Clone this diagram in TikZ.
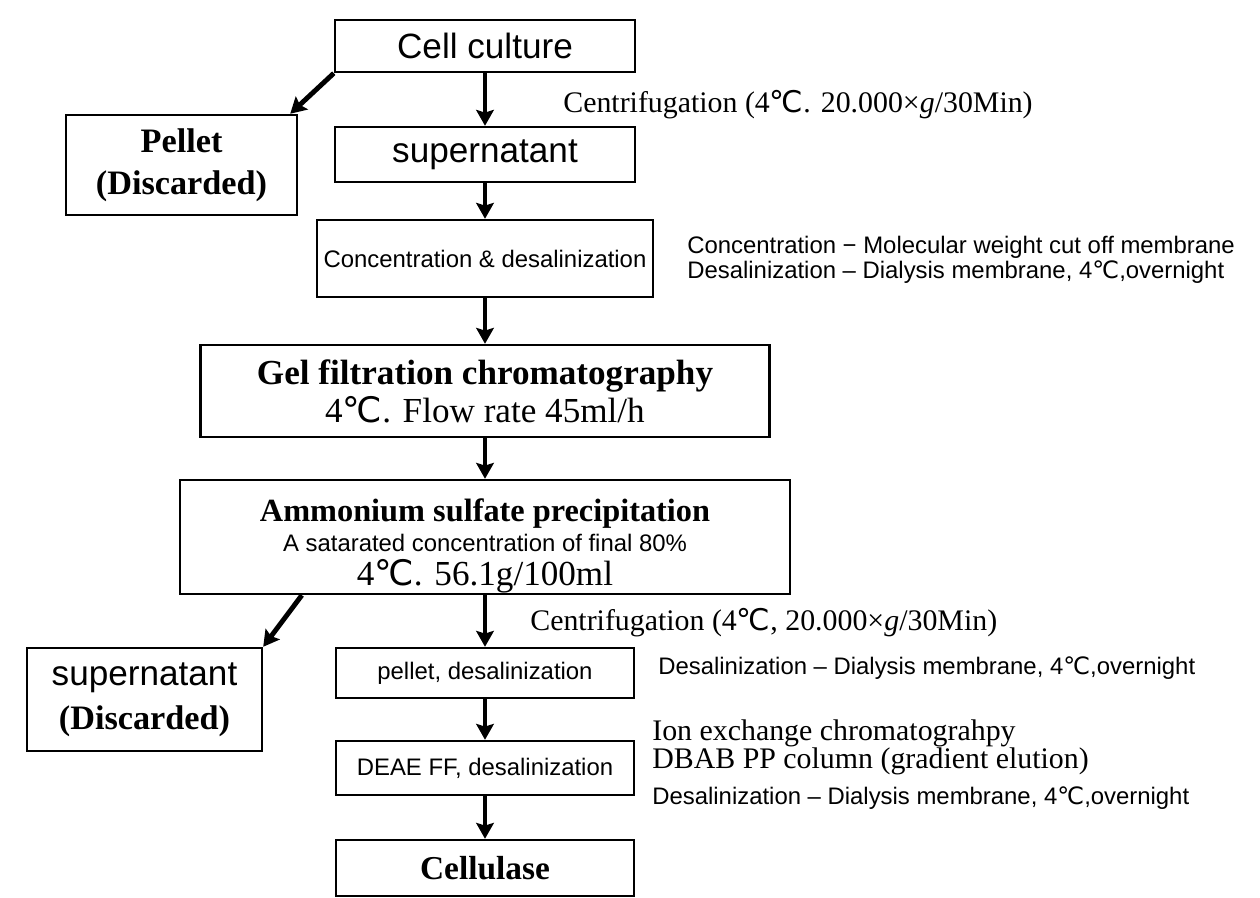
\documentclass[tikz,border=0pt]{standalone}
\usepackage{fontspec}
\setmainfont{Liberation Serif}
\setsansfont{Liberation Sans}
\newfontfamily\symfont{DejaVu Sans}
\usetikzlibrary{arrows.meta,calc}
\newcommand{\dgc}{{\symfont ℃}}
\newcommand{\fsz}[2]{\fontsize{#1}{#2}\selectfont}
\newcommand{\tightls}{\lineskiplimit=-20pt\relax}
\tikzset{
  box/.style={draw, line width=1.4pt, align=center, inner sep=0pt, fill=white},
  arr/.style={-{Stealth[length=9pt, width=10pt, inset=1.5pt]}, line width=2.8pt},
  lab/.style={anchor=west, inner sep=0pt, align=left, font=\sffamily\fsz{13.6}{14.2}},
  cond/.style={anchor=west, inner sep=0pt, align=left, font=\fsz{17}{16}},
}
\begin{document}
\begin{tikzpicture}[x=0.02cm, y=-0.02cm]
  \useasboundingbox (0,0) rectangle (1260,898);
  \node[box, minimum width=6cm, minimum height=1.04cm, font=\sffamily\fsz{20}{24}] (cc) at (485,46) {Cell culture};
  \node[box, minimum width=4.62cm, minimum height=2cm, font=\bfseries\fsz{19.5}{23.8}] (pel) at (181.5,165) {Pellet\\(Discarded)};
  \node[box, minimum width=6cm, minimum height=1.1cm, font=\sffamily\fsz{20}{24}] (sup) at (485,154.5) {supernatant};
  \node[box, minimum width=6.72cm, minimum height=1.54cm, font=\sffamily\fsz{13.6}{16}] (con) at (485,258.5) {Concentration \& desalinization};
  \node[box, minimum width=11.38cm, minimum height=1.84cm, font=\fsz{20}{21.5}] (gel) at (485,391) {\textbf{Gel filtration chromatography}\\4\dgc. Flow rate 45ml/h};
  \node[box, minimum width=12.2cm, minimum height=2.28cm, font=\fsz{13.6}{19.3}\tightls] (amm) at (485,537)
    {\rule{0pt}{23pt}{\bfseries\fsz{18.4}{17}Ammonium sulfate precipitation}\\[-2.3pt]{\sffamily A satarated concentration of final 80\%}\\{\fsz{20}{17}4\dgc. 56.1g/100ml}};
  \node[box, minimum width=4.7cm, minimum height=2.06cm, font=\fsz{19.5}{25}] (sup2) at (144.5,699.5) {{\sffamily\fsz{20}{25}supernatant}\\\textbf{(Discarded)}};
  \node[box, minimum width=5.96cm, minimum height=1cm, font=\sffamily\fsz{13.6}{16}] (pd) at (485,673) {pellet, desalinization};
  \node[box, minimum width=5.96cm, minimum height=1.08cm, font=\sffamily\fsz{13.6}{16}] (deae) at (485,768) {DEAE FF, desalinization};
  \node[box, minimum width=5.96cm, minimum height=1.12cm, font=\bfseries\fsz{19}{22}] (cel) at (485,868) {Cellulase};

  \foreach \a/\b in {cc/sup, sup/con, con/gel, gel/amm, amm/pd, pd/deae, deae/cel}
    \draw[arr] (\a) -- (\b);
  \draw[arr] (cc.south west) -- ($(pel.north east)+(-8,0)$);
  \draw[arr] ($(amm.south west)+(123,0)$) -- (sup2.north east);

  \node[cond] (c1) at (563,105) {Centrifugation (4\dgc. 20.000×\textit{g}/30Min)};
  \node[lab] (n1) at (687,259.5) {Concentration − Molecular weight cut off membrane\\Desalinization – Dialysis membrane, 4\dgc,overnight};
  \node[cond] (c2) at (530,623) {Centrifugation (4\dgc, 20.000×\textit{g}/30Min)};
  \node[lab] (n2) at (658,668) {Desalinization – Dialysis membrane, 4\dgc,overnight};
  \node[cond, font=\fsz{17}{15.9}] (ion) at (652,747) {Ion exchange chromatograhpy\\DBAB PP column (gradient elution)};
  \node[lab] (n3) at (652,798) {Desalinization – Dialysis membrane, 4\dgc,overnight};
\end{tikzpicture}
\end{document}
